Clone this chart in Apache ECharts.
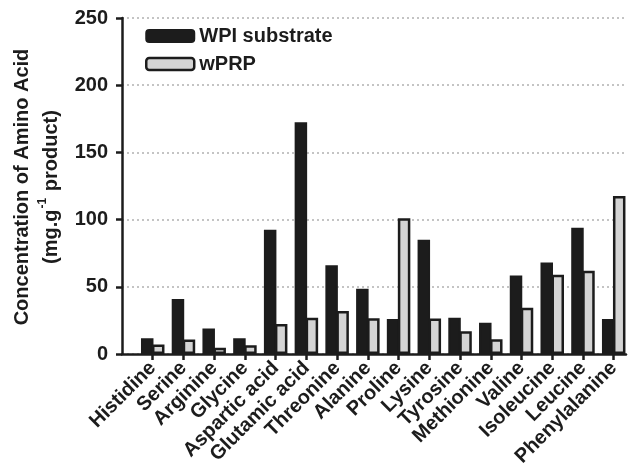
<!DOCTYPE html>
<html>
<head>
<meta charset="utf-8">
<script src="https://cdn.jsdelivr.net/npm/echarts@6/dist/echarts.min.js"></script>
<style>
html,body{margin:0;padding:0;background:#fff;}
#chart{width:637px;height:470px;}
</style>
</head>
<body>
<div id="chart"></div>
<script>
const categories = ['Histidine','Serine','Arginine','Glycine','Aspartic acid','Glutamic acid','Threonine','Alanine','Proline','Lysine','Tyrosine','Methionine','Valine','Isoleucine','Leucine','Phenylalanine'];
const wpiSubstrate = [11.7, 41, 19, 11.7, 92.5, 172.5, 66, 48.5, 26, 85, 27, 23.3, 58.5, 68, 94, 26];
const wPRP = [7, 10.8, 4.7, 6.5, 22.3, 27, 32, 26.6, 101, 26.5, 17, 11, 34.5, 59, 62, 117.5];
const yTicks = [0, 50, 100, 150, 200, 250];

const FONT = '"Liberation Sans", Arial, Helvetica, sans-serif';
const INK = '#1c1c1c';
const idx = categories.map((c, i) => i);

const chart = echarts.init(document.getElementById('chart'));
chart.setOption({
  animation: false,
  grid: { left: 122, right: 11, top: 18, bottom: 116, containLabel: false },
  legend: {
    orient: 'vertical',
    left: 145,
    top: 26,
    padding: 0,
    itemWidth: 48,
    itemHeight: 12,
    itemGap: 8,
    textStyle: { fontFamily: FONT, fontWeight: 'bold', fontSize: 20, color: INK, lineHeight: 20 },
    data: [
      { name: 'WPI substrate', itemStyle: { color: INK, borderColor: INK, borderWidth: 2 } },
      { name: 'wPRP', itemStyle: { color: '#d4d4d4', borderColor: INK, borderWidth: 2.5 } }
    ]
  },
  xAxis: {
    type: 'value',
    min: -1,
    max: 15.4,
    splitLine: { show: false },
    axisLine: { show: true, onZero: false, lineStyle: { color: INK, width: 2.5 } },
    axisTick: { show: true, customValues: idx, length: 6, inside: false, lineStyle: { color: INK, width: 2.5 } },
    axisLabel: {
      customValues: idx,
      rotate: 45,
      margin: 11,
      fontFamily: FONT, fontWeight: 'bold', fontSize: 20, color: INK,
      formatter: v => categories[Math.round(v)] || ''
    }
  },
  yAxis: {
    type: 'value',
    min: 0,
    max: 250,
    interval: 50,
    axisLine: { show: true, onZero: false, lineStyle: { color: INK, width: 2.5 } },
    axisTick: { show: true, length: 6, lineStyle: { color: INK, width: 2.5 } },
    axisLabel: {
      margin: 14,
      fontFamily: FONT, fontWeight: 'bold', fontSize: 20, color: INK,
      customValues: yTicks
    },
    splitLine: { show: true, lineStyle: { color: '#c4c4c4', width: 2, type: [2, 3] } }
  },
  graphic: [{
    type: 'text',
    x: 37,
    y: 187,
    rotation: Math.PI / 2,
    style: {
      text: '{a|Concentration of Amino Acid}\n{a|(mg.g}{s|-1}{a| product)}',
      align: 'center',
      verticalAlign: 'middle',
      fill: INK,
      rich: {
        a: { fontFamily: FONT, fontWeight: 'bold', fontSize: 20, lineHeight: 29, fill: INK },
        s: { fontFamily: FONT, fontWeight: 'bold', fontSize: 12, lineHeight: 29, verticalAlign: 'top', fill: INK, padding: [0, 1, 0, 1] }
      }
    }
  }],
  series: [
    {
      name: 'WPI substrate',
      type: 'bar',
      barWidth: 12.5,
      barGap: '-12%',
      itemStyle: { color: INK, borderColor: INK, borderWidth: 2 },
      data: wpiSubstrate.map((v, i) => [i, v])
    },
    {
      name: 'wPRP',
      type: 'bar',
      barWidth: 12.5,
      barGap: '-12%',
      itemStyle: { color: '#d4d4d4', borderColor: INK, borderWidth: 2.5 },
      data: wPRP.map((v, i) => [i, v])
    }
  ]
});
</script>
</body>
</html>
